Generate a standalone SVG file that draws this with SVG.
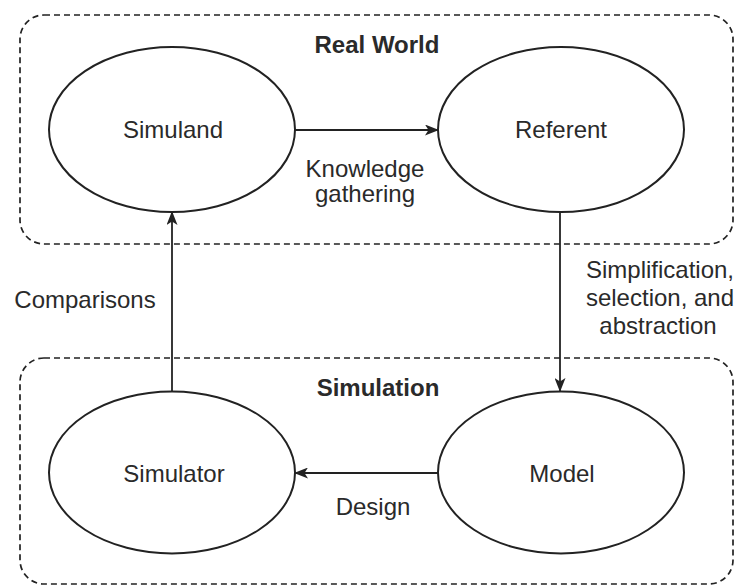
<svg xmlns="http://www.w3.org/2000/svg" width="737" height="587" viewBox="0 0 737 587">
<style>
  .box { fill: none; stroke: #222; stroke-width: 1.7; stroke-dasharray: 6 4; }
  .node { fill: #fff; stroke: #222; stroke-width: 2; }
  .edge { fill: none; stroke: #222; stroke-width: 1.8; }
  text { font-family: "Liberation Sans", Arial, sans-serif; font-size: 24px; fill: #2a2a2a; text-anchor: middle; }
  .title { font-weight: bold; }
</style>
<defs>
  <marker id="arrow" viewBox="0 0 14 11" refX="13" refY="5.5" markerWidth="14" markerHeight="11" markerUnits="userSpaceOnUse" orient="auto">
    <path d="M0,0 L14,5.5 L0,11 L3.5,5.5 Z" fill="#222"/>
  </marker>
</defs>
<rect fill="#fff" width="737" height="587"/>
<g id="real-world">
  <rect class="box" x="20" y="15" width="713" height="229" rx="24" ry="24"/>
  <text class="title" x="377" y="53">Real World</text>
</g>
<g id="simulation">
  <rect class="box" x="20" y="358" width="713" height="226" rx="24" ry="24"/>
  <text class="title" x="378" y="396">Simulation</text>
</g>
<g id="connectors">
  <line class="edge" x1="295" y1="130" x2="438" y2="130" marker-end="url(#arrow)"/>
  <line class="edge" x1="560" y1="212" x2="560" y2="391" marker-end="url(#arrow)"/>
  <line class="edge" x1="438" y1="473" x2="295" y2="473" marker-end="url(#arrow)"/>
  <line class="edge" x1="172" y1="391" x2="172" y2="212" marker-end="url(#arrow)"/>
  <text x="365" y="177">Knowledge</text>
  <text x="365" y="202">gathering</text>
  <text x="660" y="278">Simplification,</text>
  <text x="660" y="306">selection, and</text>
  <text x="658" y="334">abstraction</text>
  <text x="85" y="308">Comparisons</text>
  <text x="373" y="515">Design</text>
</g>
<g id="simuland">
  <ellipse class="node" cx="172" cy="129.5" rx="123" ry="82.5"/>
  <text x="173" y="138">Simuland</text>
</g>
<g id="referent">
  <ellipse class="node" cx="561" cy="129.5" rx="123" ry="82.5"/>
  <text x="561" y="138">Referent</text>
</g>
<g id="simulator">
  <ellipse class="node" cx="172" cy="472.5" rx="123" ry="81"/>
  <text x="174" y="482">Simulator</text>
</g>
<g id="model">
  <ellipse class="node" cx="561" cy="472.5" rx="123" ry="81"/>
  <text x="562" y="482">Model</text>
</g>
</svg>
